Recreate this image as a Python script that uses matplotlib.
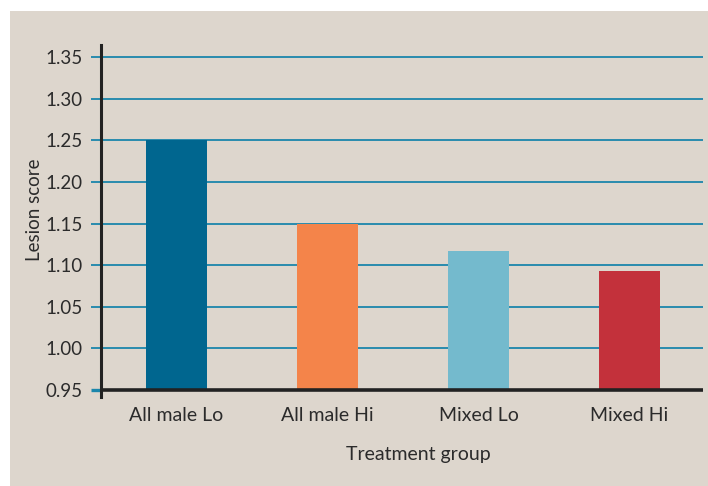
import matplotlib.pyplot as plt
from matplotlib.patches import Rectangle

categories = ["All male Lo", "All male Hi", "Mixed Lo", "Mixed Hi"]
lesion_score = [1.25, 1.15, 1.117, 1.093]
bar_colors = ["#00668f", "#f4844a", "#74bacd", "#c3313b"]
y_ticks = [0.95, 1.00, 1.05, 1.10, 1.15, 1.20, 1.25, 1.30, 1.35]

bg = "#ddd6cd"
grid_col = "#1b86ab"
text_col = "#2b2b2b"

plt.rcParams["font.family"] = ["Lato", "DejaVu Sans"]

fig = plt.figure(figsize=(7.08, 4.86), dpi=100)
fig.patch.set_facecolor("white")
# beige panel behind everything
fig.patches.append(Rectangle((10 / 708, 0), 698 / 708, 475 / 486,
                             transform=fig.transFigure, facecolor=bg,
                             edgecolor="none", zorder=-1))

ax = fig.add_axes([101 / 708, 89 / 486, 602 / 708, 352 / 486])
ax.set_facecolor(bg)

x = list(range(len(categories)))
ax.bar(x, [v - 0.95 for v in lesion_score], bottom=0.95, width=0.404,
       color=bar_colors, zorder=3)

for t in y_ticks[1:]:
    ax.axhline(t, color=grid_col, lw=1.3, zorder=1)
ax.axhline(0.95, color="#222222", lw=2.6, zorder=4)

ax.set_xlim(-0.5, 3.487)
ax.set_ylim(0.9416, 1.3647)
ax.set_yticks(y_ticks)
ax.set_yticklabels([f"{t:.2f}" for t in y_ticks])
ax.set_xticks(x)
ax.set_xticklabels(categories)

for s in ["top", "right", "bottom"]:
    ax.spines[s].set_visible(False)
ax.spines["left"].set_color("#222222")
ax.spines["left"].set_linewidth(2.2)
ax.spines["left"].set_zorder(5)

ax.tick_params(axis="y", length=7.2, width=1.3, color=grid_col, pad=6,
               labelsize=13.5, labelcolor=text_col)
ax.yaxis.get_major_ticks()[0].tick1line.set_color("#222222")
ax.yaxis.get_major_ticks()[0].tick1line.set_markeredgewidth(2.4)
ax.tick_params(axis="x", length=0, pad=7, labelsize=14, labelcolor=text_col)

fig.text(34 / 708, 1 - 209.5 / 486, "Lesion score", rotation=90,
         ha="center", va="center", fontsize=13.5, color=text_col)
fig.text(418 / 708, 1 - 454 / 486, "Treatment group",
         ha="center", va="center", fontsize=14, color=text_col)

fig.savefig("out.png", dpi=100, facecolor=fig.get_facecolor())
